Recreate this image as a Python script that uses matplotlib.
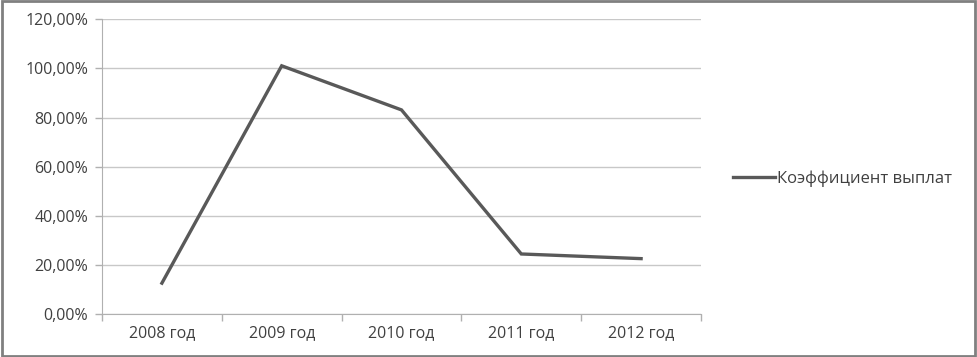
import matplotlib
matplotlib.use("Agg")
import matplotlib.pyplot as plt
from matplotlib.ticker import FuncFormatter, FixedLocator
from matplotlib.patches import Rectangle

categories = ["2008 год", "2009 год", "2010 год", "2011 год", "2012 год"]
values = [12.4, 101.1, 83.1, 24.3, 22.4]
series_name = "Коэффициент выплат"

plt.rcParams['font.family'] = ['Open Sans', 'DejaVu Sans']

fig = plt.figure(figsize=(9.77, 3.57), dpi=100)
ax = fig.add_axes([0.1044, 0.1218, 0.6131, 0.8236])

x = [i + 0.5 for i in range(len(categories))]
line, = ax.plot(x, values, color="#595959", lw=2.4, solid_joinstyle="miter",
                label=series_name)

ax.set_xlim(0, len(categories))
ax.set_ylim(0, 120)
ax.set_yticks(range(0, 121, 20))
ax.yaxis.set_major_formatter(FuncFormatter(lambda v, p: f"{v:.2f}%".replace(".", ",")))
ax.set_xticks(x)
ax.set_xticklabels(categories)
ax.xaxis.set_minor_locator(FixedLocator(range(len(categories) + 1)))
ax.tick_params(axis="x", which="major", length=0, pad=8, labelsize=11.5, colors="#404040")
ax.tick_params(axis="x", which="minor", length=5, color="#b0b0b0", width=1)
ax.tick_params(axis="y", length=5, color="#b0b0b0", width=1, pad=5, labelsize=11.5, colors="#404040")
ax.grid(axis="y", color="#c8c8c8", lw=1)
ax.set_axisbelow(True)
for s in ["top", "right"]:
    ax.spines[s].set_visible(False)
ax.spines["left"].set_color("#b0b0b0")
ax.spines["bottom"].set_color("#b0b0b0")

fig.legend(handles=[line], labels=[series_name], loc="center left",
           bbox_to_anchor=(0.735, 0.5), frameon=False, fontsize=12,
           handlelength=2.5, handletextpad=0.12, labelcolor="#404040")

fig.patches.append(Rectangle((0.002, 0.004), 0.996, 0.992, transform=fig.transFigure,
                             fill=False, edgecolor="#808080", lw=2))

fig.savefig("out.png", dpi=100)
